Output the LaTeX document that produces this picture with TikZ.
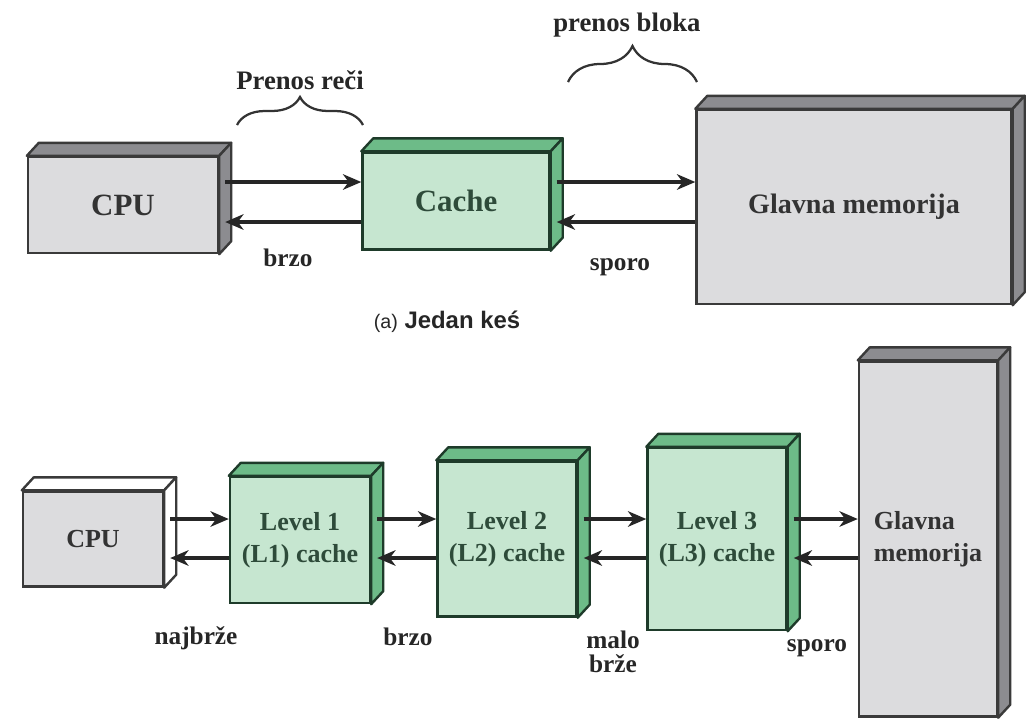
\documentclass[tikz,border=0pt]{standalone}
\usepackage{fontspec}
\setmainfont{Liberation Serif}
\newfontfamily\capfont{Liberation Sans}
\usetikzlibrary{arrows.meta,positioning,calc,decorations.pathreplacing}

\definecolor{grayfront}{HTML}{DCDCDE}
\definecolor{grayside}{HTML}{8C8C90}
\definecolor{grayline}{HTML}{3A3A3A}
\definecolor{greenfront}{HTML}{C6E6D0}
\definecolor{greenside}{HTML}{6DBB88}
\definecolor{greenline}{HTML}{1E3B2A}
\definecolor{greentext}{HTML}{2E4B3A}

% top and right face of a box node, plus a point on its side face
\newcommand{\threed}[3]{%
  \draw[draw=#3, line width=1.7pt, fill=#2, line join=round] (#1.north west) -- ++(12,-13) -- ($(#1.north east)+(12,-13)$) -- (#1.north east) -- cycle;
  \draw[draw=#3, line width=1.7pt, fill=#2, line join=round] (#1.north east) -- ($(#1.north east)+(12,-13)$) -- ($(#1.south east)+(12,-13)$) -- (#1.south east) -- cycle;
  \coordinate (#1-s) at ($(#1.east)+(6,-6)$);
}

\begin{document}
\begin{tikzpicture}[x=0.025cm, y=-0.025cm,
  sz/.style 2 args={minimum width=#1*0.025cm, minimum height=#2*0.025cm},
  graybox/.style={draw=grayline, fill=grayfront, line width=1.7pt, inner sep=0pt,
    text=black!80, align=center, font=\bfseries\fontsize{22}{24}\selectfont},
  greenbox/.style={draw=greenline, fill=greenfront, line width=1.7pt, inner sep=0pt,
    text=greentext, align=center, font=\bfseries\fontsize{18.5}{22.5}\selectfont},
  lbl/.style={text=black!85, align=center, font=\bfseries\fontsize{18}{19}\selectfont},
  arr/.style={-{Stealth[length=13pt,width=11pt,inset=4pt]}, line width=2.6pt, draw=black!85},
  brc/.style={decorate, decoration={brace, amplitude=#1}, line width=1.6pt, draw=black!80}]

\useasboundingbox (0,0) rectangle (1028,719);

% (a) jedan kes
\node[graybox, sz={190}{96}] (cpuA) at (123,205) {CPU};
\node[greenbox, sz={187}{97}, font=\bfseries\fontsize{22}{24}\selectfont] (cacheA) at (456,201) {Cache};
\node[graybox, sz={315}{194}, font=\bfseries\fontsize{20}{22}\selectfont] (memA) at (854,207) {Glavna memorija};
\threed{cpuA}{grayside}{grayline}
\threed{cacheA}{greenside}{greenline}
\threed{memA}{grayside}{grayline}

\coordinate (fwdA) at (0,182);
\coordinate (bckA) at (0,222);
\draw[arr] (cpuA-s |- fwdA) -- (cacheA.west |- fwdA);
\draw[arr] (cacheA.west |- bckA) -- (cpuA-s |- bckA);
\draw[arr] (cacheA-s |- fwdA) -- (memA.west |- fwdA);
\draw[arr] (memA.west |- bckA) -- (cacheA-s |- bckA);

\node[lbl] (brzoA) at (288,258) {brzo};
\node[lbl] (sporoA) at (620,267) {sporo};
\draw[brc=0.7cm] (237,125) -- (363,125);
\node[lbl, font=\bfseries\fontsize{19}{20}\selectfont] (recA) at (300,80) {Prenos reči};
\draw[brc=0.9cm] (568,82) -- (697,82);
\node[lbl, font=\bfseries\fontsize{19}{20}\selectfont] (blokA) at (627,25) {prenos bloka};
\node[font=\capfont\bfseries\fontsize{17}{17}\selectfont, text=black!85] (capA) at (447,322)
  {{\mdseries\fontsize{14}{14}\selectfont(a)} Jedan keś};

% (b) tri nivoa
\node[graybox, sz={140}{95}, font=\bfseries\fontsize{18.5}{20}\selectfont] (cpuB) at (93,539) {CPU};
\node[greenbox, sz={140}{126}] (lone) at (300,540) {Level 1\\(L1) cache};
\node[greenbox, sz={139}{155}] (ltwo) at (507,539) {Level 2\\(L2) cache};
\node[greenbox, sz={139}{182}] (lthree) at (717,539) {Level 3\\(L3) cache};
\node[graybox, sz={138}{355}, font=\bfseries\fontsize{18.5}{22.5}\selectfont, align=left] (memB) at (928,539) {Glavna\\memorija};
\threed{cpuB}{white}{grayline}
\threed{lone}{greenside}{greenline}
\threed{ltwo}{greenside}{greenline}
\threed{lthree}{greenside}{greenline}
\threed{memB}{grayside}{grayline}

\coordinate (fwdB) at (0,519);
\coordinate (bckB) at (0,558);
\foreach \a/\b in {cpuB/lone, lone/ltwo, ltwo/lthree, lthree/memB} {
  \draw[arr] (\a-s |- fwdB) -- (\b.west |- fwdB);
  \draw[arr] (\b.west |- bckB) -- (\a-s |- bckB);
}

\node[lbl] (najB) at (196,638) {najbrže};
\node[lbl] (brzoB) at (408,637) {brzo};
\node[lbl, font=\bfseries\fontsize{18}{17}\selectfont] (maloB) at (613,652) {malo\\brže};
\node[lbl] (sporoB) at (817,648) {sporo};
\end{tikzpicture}
\end{document}
